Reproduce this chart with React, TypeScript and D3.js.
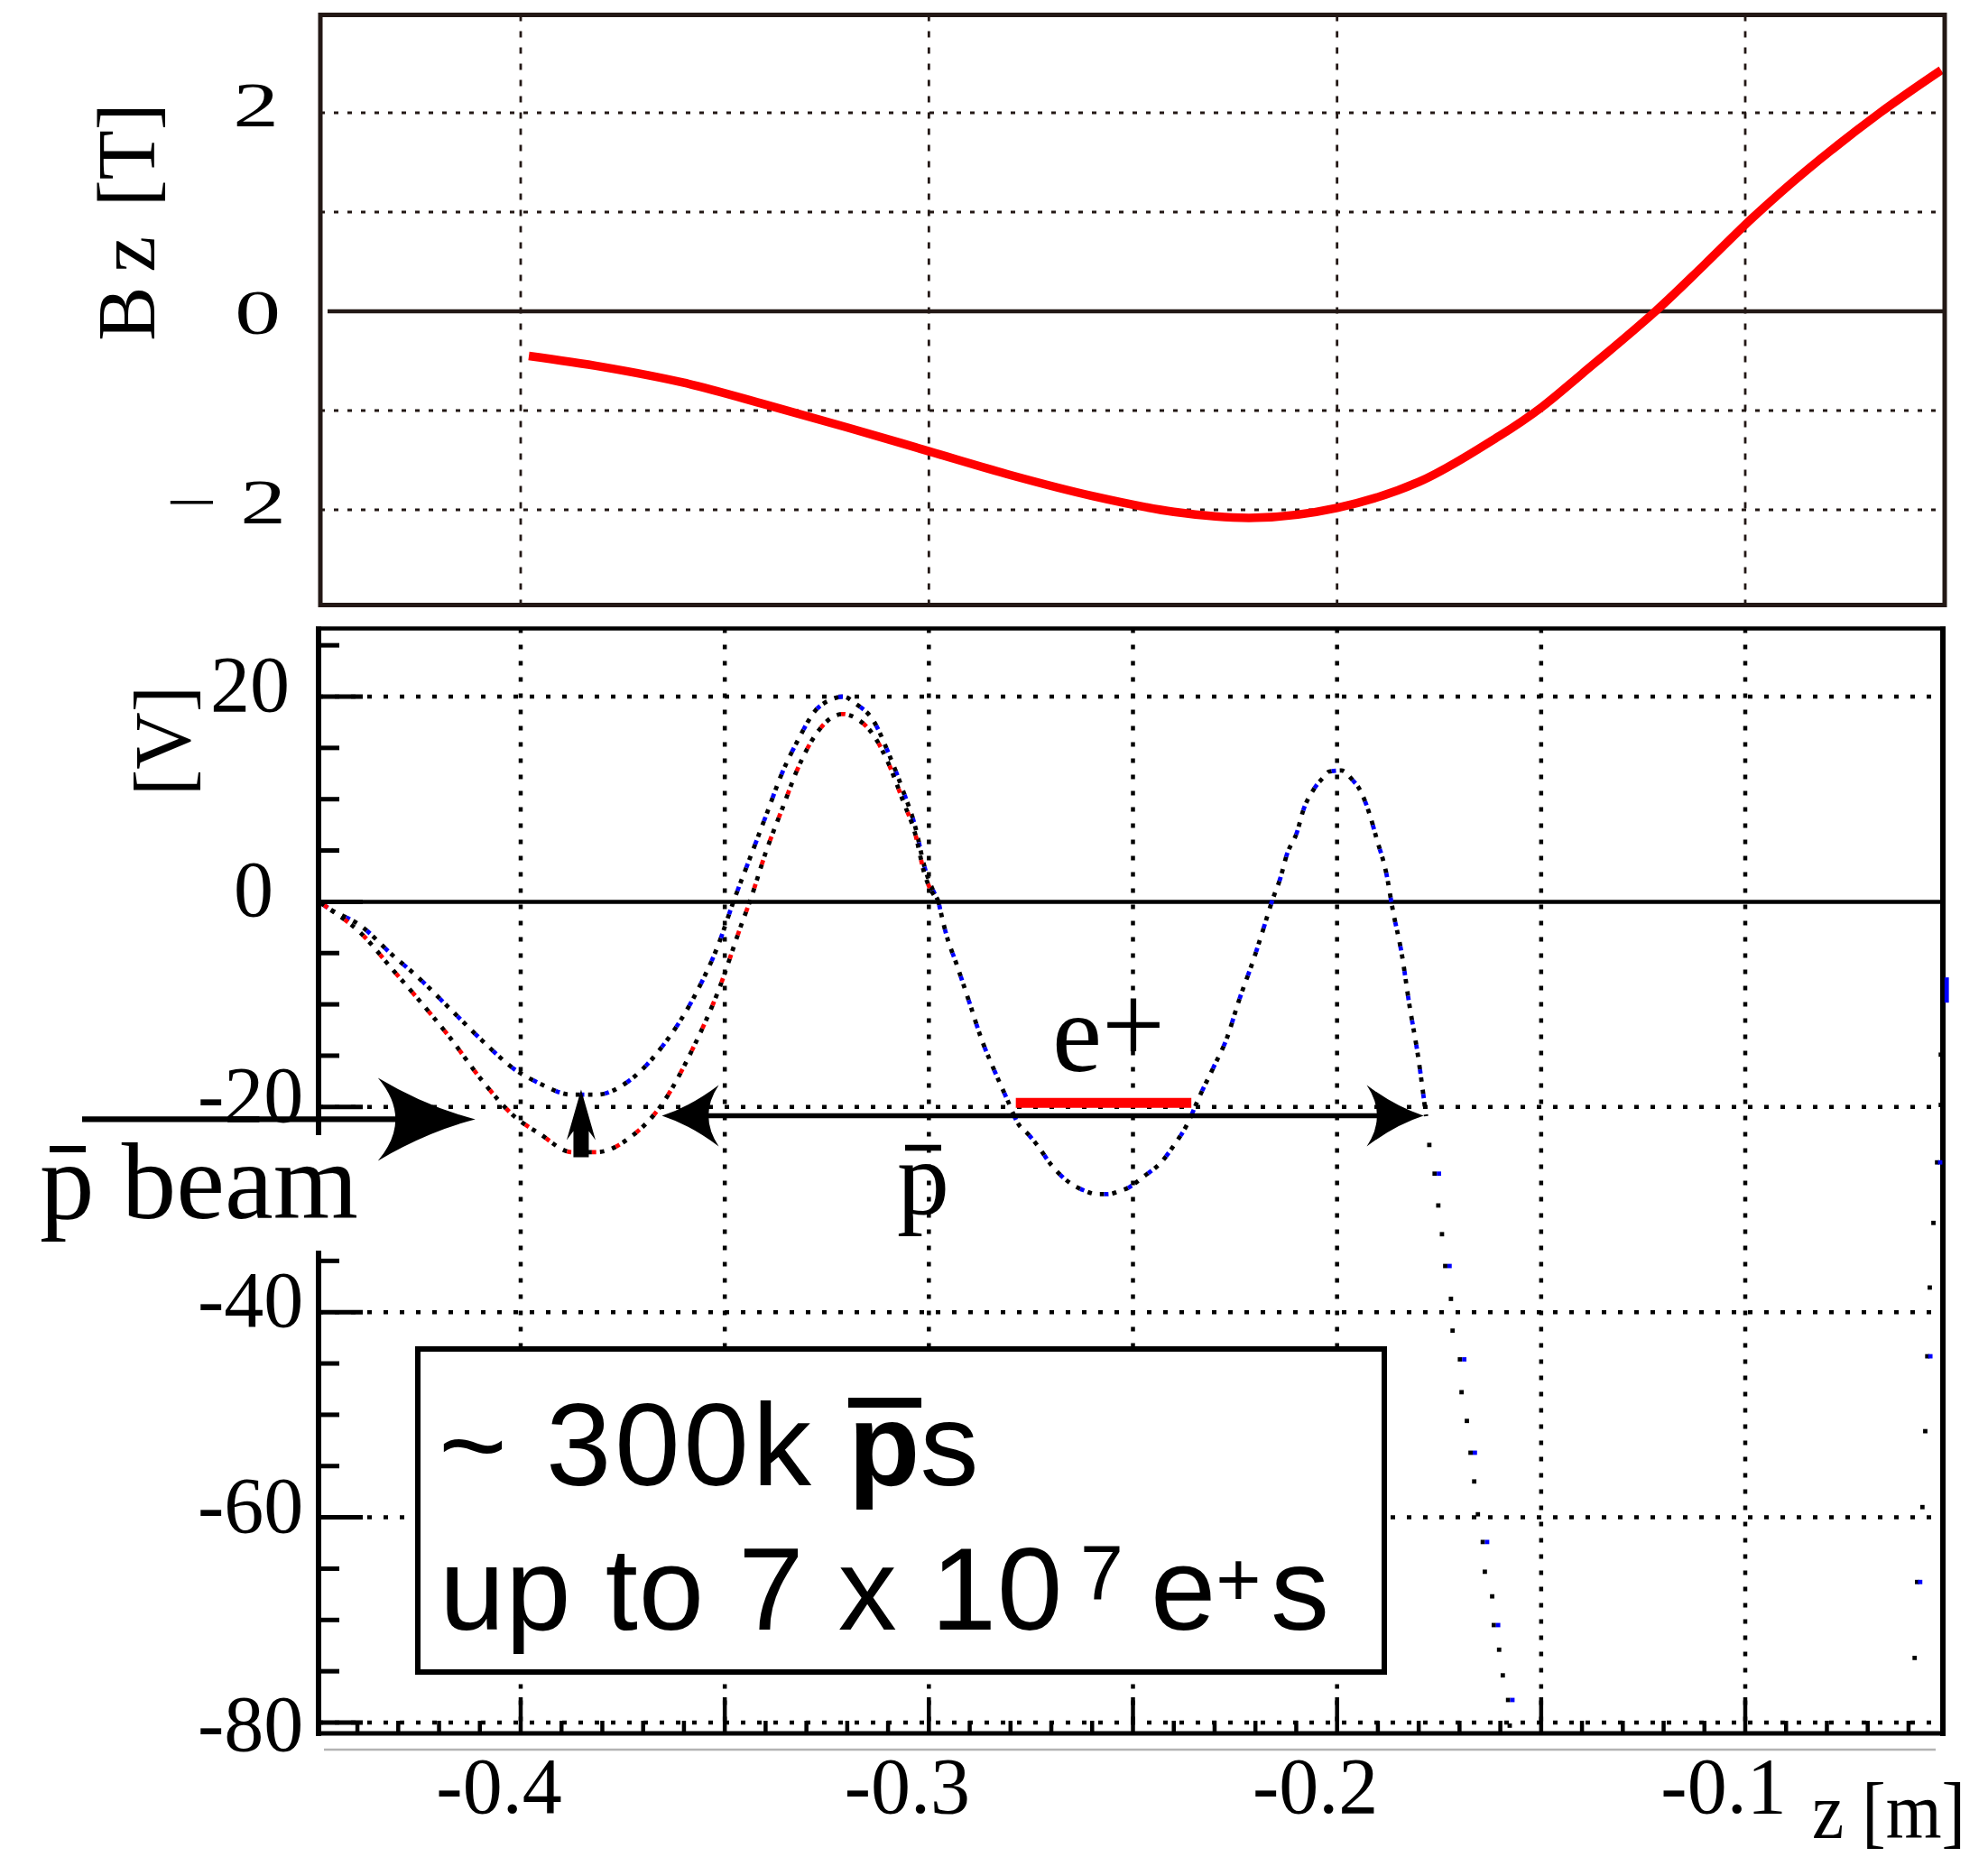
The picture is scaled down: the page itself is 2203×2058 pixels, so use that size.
import React from 'react';
import * as d3 from 'd3';

// ---------------- Data ----------------
// Top panel: on-axis field Bz [T] vs z [m]
const bzZ = [-0.398, -0.38, -0.36, -0.34, -0.32, -0.30, -0.28, -0.26, -0.24, -0.22, -0.20, -0.18, -0.16, -0.15, -0.14, -0.122, -0.11, -0.098, -0.085, -0.067, -0.052];
const bzT = [-0.45, -0.56, -0.72, -0.94, -1.17, -1.41, -1.65, -1.86, -2.02, -2.08, -1.98, -1.72, -1.25, -0.97, -0.63, 0.0, 0.47, 0.95, 1.42, 2.0, 2.43];
const bzTickVals = [2, 0, -2];
const bzGridVals = [2, 1, -1, -2];
const zGridTop = [-0.4, -0.3, -0.2, -0.1];

// Bottom panel: electrostatic potential [V] vs z [m]
// upper well configuration (blue-marked)
const upperZ = [-0.449, -0.4472, -0.4393, -0.4314, -0.4253, -0.4174, -0.4095, -0.4016, -0.3954, -0.3874, -0.3814, -0.3733, -0.3655, -0.3577, -0.3515, -0.3478, -0.3438, -0.3398, -0.3358, -0.332, -0.3279, -0.324, -0.321, -0.3179, -0.3135, -0.3098, -0.3064, -0.3032, -0.3012, -0.2977];
const upperV = [-0.1, -0.6, -2.3, -5.2, -7.3, -10.4, -13.5, -16.3, -17.7, -18.8, -18.8, -17.4, -14.2, -9.4, -4.1, 0.1, 4.3, 8.5, 12.7, 15.8, 18.6, 19.7, 20.0, 19.3, 17.6, 14.4, 10.9, 7.1, 3.6, 0.1];
// lower well configuration (red-marked)
const lowerZ = [-0.449, -0.4472, -0.4393, -0.4314, -0.4253, -0.4174, -0.4095, -0.4016, -0.3954, -0.3874, -0.3814, -0.3733, -0.3655, -0.3577, -0.3515, -0.346, -0.3438, -0.3398, -0.3358, -0.332, -0.3279, -0.324, -0.321, -0.3179, -0.3135, -0.3098, -0.3064, -0.3032, -0.3012, -0.2977];
const lowerV = [-0.1, -0.6, -3.0, -6.6, -9.4, -13.2, -17.4, -20.9, -22.6, -24.4, -24.4, -23.0, -19.8, -14.2, -8.6, -2.3, 0.1, 5.0, 9.2, 13.1, 16.2, 17.9, 18.3, 17.9, 16.2, 13.4, 9.9, 6.4, 2.9, 0.1];
// common part of both configurations
const commonZ = [-0.2977, -0.2958, -0.2932, -0.29, -0.2871, -0.2839, -0.281, -0.278, -0.2758, -0.2735, -0.2699, -0.2651, -0.2622, -0.2587, -0.2562, -0.2533, -0.2508, -0.2478, -0.2429, -0.2399, -0.237, -0.2335, -0.2301, -0.227, -0.2241, -0.2201, -0.2181, -0.2159, -0.2139, -0.2123, -0.2098, -0.2083, -0.2058, -0.2034, -0.2019, -0.1989, -0.1965, -0.194, -0.192, -0.1902, -0.188, -0.1863, -0.1841, -0.1823, -0.1801, -0.1782];
const commonV = [0.1, -3.1, -6.1, -9.9, -13.4, -16.5, -19.1, -21.7, -22.6, -23.7, -25.7, -27.5, -28.1, -28.5, -28.5, -28.2, -27.8, -26.9, -25.3, -23.7, -21.9, -18.8, -16.0, -13.3, -9.7, -5.2, -2.7, 0.1, 2.3, 4.6, 6.8, 8.9, 10.9, 12.1, 12.7, 12.8, 12.0, 10.6, 8.5, 6.0, 2.9, -0.9, -5.2, -10.0, -15.2, -20.9];
// sparse samples of the steep flank
const tailZ = [-0.1774, -0.1761, -0.1752, -0.1743, -0.1735, -0.1721, -0.1717, -0.1699, -0.1695, -0.1682, -0.1673, -0.1664, -0.1655, -0.1643, -0.1638, -0.162, -0.1616, -0.1603, -0.1594, -0.1581, -0.1577];
const tailV = [-23.7, -26.5, -29.6, -32.4, -35.5, -38.7, -41.8, -44.6, -47.8, -50.6, -53.7, -56.5, -59.7, -62.4, -65.3, -67.7, -70.5, -72.9, -75.4, -77.8, -80.3];
// samples at the far right edge
const farZ = [-0.0514, -0.0521, -0.0521, -0.053, -0.0539, -0.0548, -0.0554, -0.0559, -0.0566, -0.0579, -0.0585];
const farV = [-8.6, -14.9, -19.8, -25.4, -31.3, -37.6, -44.3, -51.6, -59.0, -66.3, -73.7];

const vTickVals = [20, 0, -20, -40, -60, -80];
const vGridVals = [20, -20, -40, -60, -80];
const zTickVals = [-0.4, -0.3, -0.2, -0.1];
const zGridBottom = [-0.4, -0.35, -0.3, -0.25, -0.2, -0.15, -0.1];

// annotations (data coordinates)
const positronZ = [-0.2787, -0.2357];
const positronV = -19.6;
const pbarArrowZ = [-0.3654, -0.1788];
const pbarArrowV = -20.85;
const beamTipZ = -0.4111;
const beamV = -21.2;
const shiftZ = -0.3852;
const shiftV = [-24.9, -18.3];

const serif = "'Liberation Serif', 'Times New Roman', Times, serif";
const sans = "'Liberation Sans', Arial, Helvetica, sans-serif";
const ink = '#231815';

function headPath(tx: number, ty: number, dir: number, L: number, H: number) {
  const bx = tx - dir * L;
  return `M${tx},${ty} Q${tx - dir * 0.5 * L},${ty - 0.3 * H} ${bx},${ty - H} Q${tx - dir * 0.64 * L},${ty} ${bx},${ty + H} Q${tx - dir * 0.5 * L},${ty + 0.3 * H} ${tx},${ty} Z`;
}

export default function App() {
  const x = d3.scaleLinear().domain([-0.4, -0.1]).range([577, 1934]);
  const yT = d3.scaleLinear().domain([-2, 2]).range([565, 125]);
  const yB = d3.scaleLinear().domain([-80, 20]).range([1909, 772]);

  const frameL = 355, frameR = 2155, topT = 16.5, botT = 670.5;
  const axisX = 353, rightB = 2153, topB = 696.5, botB = 1921;

  const zip = (a: number[], b: number[]) => a.map((v, i) => [v, b[i]] as [number, number]);
  const bzLine = d3.line<[number, number]>().x(d => x(d[0])).y(d => yT(d[1])).curve(d3.curveCatmullRom.alpha(0.5));
  const vLine = d3.line<[number, number]>().x(d => x(d[0])).y(d => yB(d[1])).curve(d3.curveMonotoneX);

  const upperPath = vLine(zip(upperZ, upperV)) || '';
  const lowerPath = vLine(zip(lowerZ, lowerV)) || '';
  const commonPath = vLine(zip(commonZ, commonV)) || '';

  const minorV = d3.range(25, -81, -5);
  const minorZ = d3.range(-44, -5).map(k => k / 100);

  const dotted = { fill: 'none', stroke: '#000', strokeWidth: 4.8, strokeDasharray: '4.8 9' } as const;
  const colored = (c: string) => ({ fill: 'none', stroke: c, strokeWidth: 4.8, strokeDasharray: '4.8 22.8', strokeDashoffset: -4.8 });

  const beamY = yB(beamV);
  const beamTip = x(beamTipZ);
  const pbY = yB(pbarArrowV);
  const pbL = x(pbarArrowZ[0]);
  const pbR = x(pbarArrowZ[1]);
  const sx = x(shiftZ);
  const sTop = yB(shiftV[1]);
  const sBot = yB(shiftV[0]);

  return (
    <svg width={2203} height={2058} viewBox="0 0 2203 2058"
      style={{ position: 'absolute', left: 0, top: 0, background: '#fff' }}>
      <rect x={0} y={0} width={2203} height={2058} fill="#fff" />

      {/* ---------- TOP PANEL ---------- */}
      {bzGridVals.map(v => (
        <line key={'tg' + v} x1={frameL} x2={frameR} y1={yT(v)} y2={yT(v)}
          stroke={ink} strokeWidth={2.8} strokeDasharray="5 10" />
      ))}
      {zGridTop.map(z => (
        <line key={'tz' + z} x1={x(z)} x2={x(z)} y1={topT} y2={botT}
          stroke={ink} strokeWidth={2.8} strokeDasharray="7 11" />
      ))}
      <line x1={363} x2={frameR} y1={yT(0)} y2={yT(0)} stroke={ink} strokeWidth={4.5} />
      <path d={bzLine(zip(bzZ, bzT)) || ''} fill="none" stroke="#ff0000" strokeWidth={9.5} />
      <rect x={frameL} y={topT} width={frameR - frameL} height={botT - topT}
        fill="none" stroke={ink} strokeWidth={5} />

      {/* top tick labels (wide Times) */}
      {bzTickVals.map(v => (
        <text key={'tl' + v} fontFamily={serif} fontSize={70} textAnchor="end"
          transform={`translate(${v === -2 ? 317 : v === 0 ? 311 : 309},${yT(v) + (v === 0 ? 25 : 15)}) scale(1.45,1)`}>
          {v === -2 ? '− 2' : String(v)}
        </text>
      ))}
      <text fontFamily={serif} fontSize={90} textAnchor="middle"
        transform={`translate(171,246) rotate(-90)`}>
        B<tspan dx={16}>z</tspan> <tspan dx={10}>[T]</tspan>
      </text>

      {/* ---------- BOTTOM PANEL ---------- */}
      {vGridVals.map(v => (
        <line key={'bg' + v} x1={axisX} x2={rightB} y1={yB(v)} y2={yB(v)}
          stroke="#000" strokeWidth={4.5} strokeDasharray="5 13" />
      ))}
      {zGridBottom.map(z => (
        <line key={'bz' + z} x1={x(z)} x2={x(z)} y1={topB} y2={botB}
          stroke="#000" strokeWidth={4.5} strokeDasharray="5 13" />
      ))}
      <line x1={axisX} x2={rightB} y1={yB(0)} y2={yB(0)} stroke="#000" strokeWidth={4.5} />

      {/* potential curves */}
      <path d={upperPath} {...dotted} />
      <path d={upperPath} {...colored('#0000ff')} />
      <path d={lowerPath} {...dotted} />
      <path d={lowerPath} {...colored('#ff0000')} />
      <path d={commonPath} {...dotted} />
      <path d={commonPath} {...colored('#0000ff')} />
      {tailZ.map((z, i) => (
        <g key={'t' + i}>
          <rect x={x(z) - 2.4} y={yB(tailV[i]) - 2.4} width={4.8} height={4.8} fill="#000" />
          {i % 3 === 1 && <rect x={x(z) + 2.4} y={yB(tailV[i]) - 2.4} width={4.8} height={4.8} fill="#0000ff" />}
        </g>
      ))}

      {/* e+ region */}
      <line x1={x(positronZ[0])} x2={x(positronZ[1])} y1={yB(positronV)} y2={yB(positronV)}
        stroke="#ff0000" strokeWidth={11} />
      <text x={1166} y={1187} fontFamily={serif} fontSize={124}>e<tspan dy={-10}>+</tspan></text>

      {/* p-bar double arrow */}
      <line x1={pbL + 50} x2={pbR - 50} y1={pbY} y2={pbY} stroke="#000" strokeWidth={5.5} />
      <path d={headPath(pbL, pbY, -1, 63, 34)} fill="#000" />
      <path d={headPath(pbR, pbY, 1, 63, 34)} fill="#000" />
      <text x={994} y={1345} fontFamily={serif} fontSize={116}>p</text>
      <line x1={1003} x2={1043} y1={1272} y2={1272} stroke="#000" strokeWidth={6.5} />

      {/* small shift arrow */}
      <path d={`M${sx},${sTop} L${sx + 16},${sTop + 56} L${sx + 8.5},${sTop + 46} L${sx + 8.5},${sBot} L${sx - 8.5},${sBot} L${sx - 8.5},${sTop + 46} L${sx - 16},${sTop + 56} Z`} fill="#000" />

      {/* text box */}
      <rect x={463} y={1495} width={1071} height={358} fill="#fff" stroke="#000" strokeWidth={6} />
      <text y={1646} fontFamily={sans} fontSize={130}>
        <tspan x={486}>~</tspan>
        <tspan x={605} letterSpacing={4}>300k</tspan>
        <tspan x={940} fontWeight="bold">p</tspan>
        <tspan>s</tspan>
      </text>
      <line x1={940} x2={1021} y1={1554.5} y2={1554.5} stroke="#000" strokeWidth={11} />
      <text y={1806} fontFamily={sans} fontSize={130}>
        <tspan x={487} letterSpacing={1}>up to 7 x 10</tspan>
        <tspan x={1197} dy={-34} fontSize={86}>7</tspan>
        <tspan x={1275} dy={34}>e</tspan>
        <tspan dy={-26} fontSize={86}>+</tspan>
        <tspan x={1408} dy={26}>s</tspan>
      </text>

      {/* axes frame */}
      <line x1={axisX - 3} x2={rightB + 3} y1={topB} y2={topB} stroke="#000" strokeWidth={4.5} />
      <line x1={axisX} x2={axisX} y1={topB - 2} y2={botB + 3} stroke="#000" strokeWidth={6} />
      <line x1={rightB} x2={rightB} y1={topB - 2} y2={botB + 3} stroke="#000" strokeWidth={6} />
      <line x1={axisX - 3} x2={rightB + 3} y1={botB} y2={botB} stroke="#000" strokeWidth={5} />
      <line x1={359} x2={2145} y1={1939} y2={1939} stroke="#b3b3b3" strokeWidth={2.5} />
      {minorV.map(v => (
        <line key={'mv' + v} x1={axisX} x2={axisX + (v % 20 === 0 ? 49 : 23)} y1={yB(v)} y2={yB(v)}
          stroke="#000" strokeWidth={5} />
      ))}
      {minorZ.map(z => {
        const major = Math.abs(Math.round(z * 100) % 5) === 0;
        return (
          <line key={'mz' + z} x1={x(z)} x2={x(z)} y1={botB} y2={botB - (major ? 40 : 14)}
            stroke="#000" strokeWidth={4.5} />
        );
      })}
      {farZ.map((z, i) => (
        <g key={'f' + i}>
          <rect x={x(z) - 2.4} y={yB(farV[i]) - 2.4} width={4.8} height={4.8} fill="#000" />
          {i % 3 === 0 && <rect x={x(z) + 1} y={yB(farV[i]) - (i === 0 ? 14 : 2.4)} width={4.8} height={i === 0 ? 28 : 4.8} fill="#0000ff" />}
        </g>
      ))}

      {/* p-bar beam arrow + label (white backdrop hides the axis) */}
      <rect x={38} y={1258} width={362} height={128} fill="#fff" />
      <line x1={91} x2={beamTip - 85} y1={beamY} y2={beamY} stroke="#000" strokeWidth={6.3} />
      <path d={headPath(beamTip, beamY, 1, 108, 46)} fill="#000" />
      <text x={44} y={1350} fontFamily={serif} fontSize={121}>p beam</text>
      <line x1={55} x2={95} y1={1273.5} y2={1273.5} stroke="#000" strokeWidth={7} />

      {/* bottom tick labels */}
      {vTickVals.map(v => (
        <text key={'vl' + v} x={v > 0 ? 233 : v === 0 ? 259 : 219}
          y={yB(v) + (v === -80 ? 31 : 16)} fontFamily={serif} fontSize={88}>
          {String(v)}
        </text>
      ))}
      {zTickVals.map(z => (
        <text key={'zl' + z} x={x(z) - 24} y={2009} fontFamily={serif} fontSize={88} textAnchor="middle">
          {String(z)}
        </text>
      ))}
      <text fontFamily={serif} fontSize={88} textAnchor="middle" transform="translate(210,821) rotate(-90)">[V]</text>
      <text x={2008} y={2037} fontFamily={serif} fontSize={88} textLength={170} lengthAdjust="spacingAndGlyphs">z [m]</text>
    </svg>
  );
}
